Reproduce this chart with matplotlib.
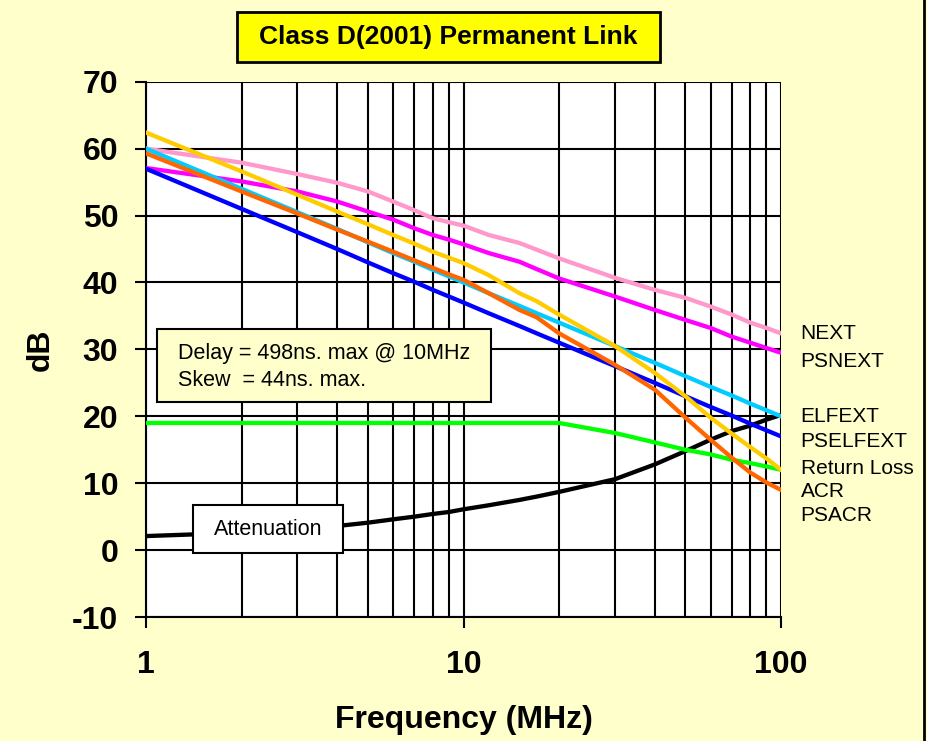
import matplotlib
matplotlib.use("Agg")
import matplotlib.pyplot as plt
from matplotlib.patches import Rectangle
from matplotlib.lines import Line2D
from matplotlib.ticker import LogLocator, NullFormatter, FixedLocator, FixedFormatter
from matplotlib.transforms import blended_transform_factory

plt.rcParams["font.family"] = ["Liberation Sans", "DejaVu Sans"]
plt.rcParams["axes.unicode_minus"] = False

# frequency points (MHz)
freq = [1, 2, 3, 4, 5, 6, 7, 8, 9, 10, 12, 15, 17, 20, 30, 40, 50, 60, 70, 80, 90, 100]

next_db = [60.0, 57.9, 56.2, 54.9, 53.6, 52.1, 50.8, 49.6, 49.0, 48.5, 47.1, 45.9, 44.9,
           43.6, 40.7, 38.9, 37.7, 36.4, 35.2, 34.0, 33.2, 32.4]
psnext_db = [57.1, 55.1, 53.6, 52.1, 50.6, 49.4, 48.1, 47.1, 46.4, 45.7, 44.4, 43.1, 42.0,
             40.6, 37.9, 35.9, 34.4, 33.2, 31.9, 31.0, 30.2, 29.5]
elfext_db = [60.0, 54.0, 50.5, 48.0, 46.0, 44.4, 43.1, 41.9, 40.9, 40.0, 38.4, 36.5, 35.4,
             34.0, 30.5, 28.0, 26.0, 24.4, 23.1, 21.9, 20.9, 20.0]
pselfext_db = [57.0, 51.0, 47.5, 45.0, 43.0, 41.4, 40.1, 38.9, 37.9, 37.0, 35.4, 33.5, 32.4,
               31.0, 27.5, 25.0, 23.0, 21.4, 20.1, 18.9, 17.9, 17.0]
return_loss_db = [19.0, 19.0, 19.0, 19.0, 19.0, 19.0, 19.0, 19.0, 19.0, 19.0, 19.0, 19.0, 19.0,
                  19.0, 17.5, 16.1, 15.0, 14.3, 13.5, 13.0, 12.5, 12.0]
acr_db = [62.4, 56.6, 53.1, 50.6, 48.7, 47.1, 45.8, 44.6, 43.7, 42.9, 41.1, 38.4, 37.2,
          35.2, 30.5, 26.5, 23.0, 19.8, 17.4, 15.4, 13.7, 12.0]
psacr_db = [59.3, 53.6, 50.3, 47.9, 46.1, 44.6, 43.3, 42.2, 41.2, 40.4, 38.4, 35.9, 34.8,
            32.4, 27.7, 24.0, 19.8, 16.5, 13.8, 11.6, 10.1, 9.0]
attenuation_db = [2.1, 2.6, 3.1, 3.6, 4.1, 4.6, 5.0, 5.4, 5.7, 6.1, 6.7, 7.5, 8.0,
                  8.7, 10.6, 12.8, 14.8, 16.5, 17.8, 18.6, 19.5, 20.2]

series_names = ["NEXT", "PSNEXT", "ELFEXT", "PSELFEXT", "Return Loss", "ACR", "PSACR"]
label_y = [32.3, 28.2, 19.9, 16.2, 12.2, 8.7, 5.1]

y_ticks = [-10, 0, 10, 20, 30, 40, 50, 60, 70]
x_ticks = [1, 10, 100]
x_tick_labels = ["1", "10", "100"]

bg = "#FFFFCC"
fig = plt.figure(figsize=(9.27, 7.41), dpi=100, facecolor=bg)
ax = fig.add_axes([0.1575, 0.1673, 0.685, 0.7224])
ax.set_facecolor("white")

lw = 3.1
ax.plot(freq, attenuation_db, color="black", lw=lw, zorder=3)
ax.plot(freq, next_db, color="#FF99CC", lw=lw, zorder=3)
ax.plot(freq, psnext_db, color="#FF00FF", lw=lw, zorder=3)
ax.plot(freq, elfext_db, color="#00CCFF", lw=lw, zorder=3)
ax.plot(freq, pselfext_db, color="#0000FF", lw=lw, zorder=3)
ax.plot(freq, return_loss_db, color="#00FF00", lw=lw, zorder=3)
ax.plot(freq, acr_db, color="#FFCC00", lw=lw, zorder=3)
ax.plot(freq, psacr_db, color="#FF6600", lw=lw, zorder=3)

ax.set_xscale("log")
ax.set_xlim(1, 100)
ax.set_ylim(-10, 70)

ax.xaxis.set_major_locator(FixedLocator(x_ticks))
ax.xaxis.set_major_formatter(FixedFormatter(x_tick_labels))
ax.xaxis.set_minor_locator(LogLocator(base=10, subs=range(2, 10)))
ax.xaxis.set_minor_formatter(NullFormatter())
ax.set_yticks(y_ticks)

ax.tick_params(axis="both", which="major", direction="out", length=8, width=1.5,
               labelsize=23, colors="black")
ax.tick_params(axis="x", which="major", pad=16)
ax.tick_params(axis="y", which="major", pad=12)
ax.tick_params(axis="x", which="minor", length=0)
for lab in ax.get_xticklabels() + ax.get_yticklabels():
    lab.set_fontweight("bold")

ax.grid(True, which="both", axis="x", color="black", lw=1.5)
ax.grid(True, which="major", axis="y", color="black", lw=1.5)
ax.set_axisbelow(True)
for side in ["top", "right"]:
    ax.spines[side].set_visible(False)
for side in ["left", "bottom"]:
    ax.spines[side].set_linewidth(1.5)

ax.set_xlabel("Frequency (MHz)", fontsize=23, fontweight="bold", labelpad=18)
ax.set_ylabel("dB", fontsize=23, fontweight="bold", labelpad=12)

# series names to the right of the plot
trans = blended_transform_factory(ax.transAxes, ax.transData)
for name, yv in zip(series_names, label_y):
    ax.text(1.031, yv, name, transform=trans, fontsize=15, va="center", ha="left",
            clip_on=False)

# delay / skew note
ax.add_patch(Rectangle((0.0169, 0.401), 0.5264, 0.1365, transform=ax.transAxes,
                       facecolor=bg, edgecolor="black", lw=1.5, zorder=5))
ax.text(0.0504, 0.493, "Delay = 498ns. max @ 10MHz", transform=ax.transAxes,
        fontsize=15.5, va="center", ha="left", zorder=6)
ax.text(0.0504, 0.4427, "Skew  = 44ns. max.", transform=ax.transAxes,
        fontsize=15.5, va="center", ha="left", zorder=6)

# attenuation callout
ax.add_patch(Rectangle((0.0735, 0.120), 0.2372, 0.0892, transform=ax.transAxes,
                       facecolor="white", edgecolor="black", lw=1.5, zorder=5))
ax.text(0.192, 0.1644, "Attenuation", transform=ax.transAxes, fontsize=15.5,
        va="center", ha="center", zorder=6)

# title box
fig.add_artist(Rectangle((237 / 927, 1 - 62 / 741), 423 / 927, 50 / 741,
                         transform=fig.transFigure, facecolor="#FFFF00",
                         edgecolor="black", lw=2))
fig.text(448.5 / 927, 1 - 37 / 741, "Class D(2001) Permanent Link", fontsize=19,
         fontweight="bold", ha="center", va="center")

# frame line on the right edge
fig.add_artist(Line2D([924 / 927, 924 / 927], [0, 1], transform=fig.transFigure,
                      color="black", lw=2))

fig.savefig("out.png", dpi=100, facecolor=bg)
